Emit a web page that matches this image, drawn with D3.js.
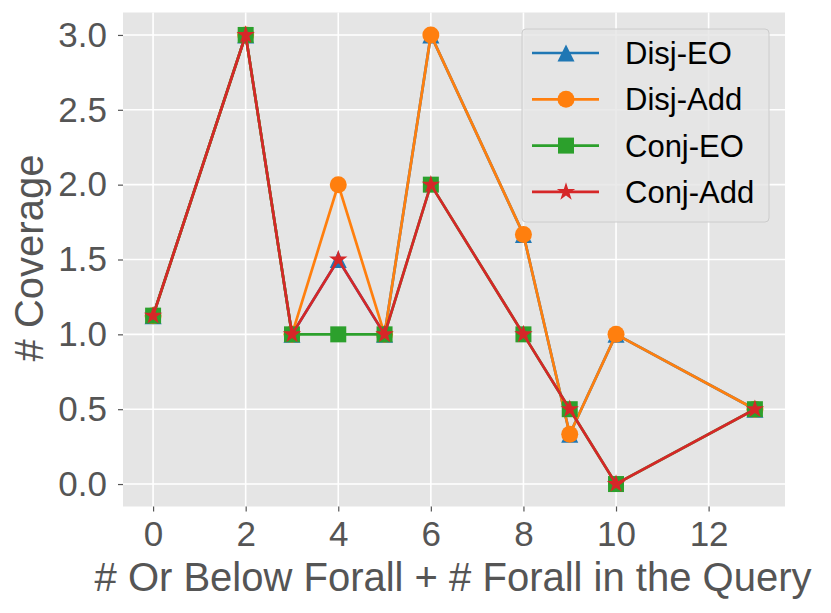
<!DOCTYPE html>
<html>
<head>
<meta charset="utf-8">
<script src="https://cdn.jsdelivr.net/npm/d3@7"></script>
<style>
  body { margin: 0; background: #fff; }
  text { font-family: "Liberation Sans", Arial, sans-serif; }
</style>
</head>
<body>
<svg id="chart" width="831" height="613"></svg>
<script>
// data
const xs = [0, 2, 3, 4, 5, 6, 8, 9, 10, 13]
const disjEO = [1.125, 3, 1, 1.5, 1, 3, 1.667, 0.333, 1, 0.5]
const disjAdd = [1.125, 3, 1, 2, 1, 3, 1.667, 0.333, 1, 0.5]
const conjEO = [1.125, 3, 1, 1, 1, 2, 1, 0.5, 0, 0.5]
const conjAdd = [1.125, 3, 1, 1.5, 1, 2, 1, 0.5, 0, 0.5]
const seriesNames = ['Disj-EO', 'Disj-Add', 'Conj-EO', 'Conj-Add']
const xTicks = [0, 2, 4, 6, 8, 10, 12]
const yTicks = [0, 0.5, 1, 1.5, 2, 2.5, 3]

const colors = ['#1f77b4', '#ff7f0e', '#2ca02c', '#d62728']

// matplotlib-style '^': bbox centred on the point
const triangleUp = {
    draw(context, size) {
        const s = Math.sqrt(size) / 2
        context.moveTo(0, -s)
        context.lineTo(s, s)
        context.lineTo(-s, s)
        context.closePath()
    }
}
const symbols = [triangleUp, d3.symbolCircle, d3.symbolSquare, d3.symbolStar]
const symSizes = [290, 227, 256, 105]

const margin = { top: 12.5, right: 46, bottom: 106.5, left: 123 }
const width = 831 - margin.left - margin.right
const height = 613 - margin.top - margin.bottom

const svg = d3.select('#chart')
const chart = svg.append('g')
    .attr('transform', `translate(${margin.left},${margin.top})`)

const x = d3.scaleLinear().domain([-0.65, 13.65]).range([0, width])
const y = d3.scaleLinear().domain([-0.15, 3.15]).range([height, 0])

chart.append('rect')
    .attr('width', width).attr('height', height)
    .attr('fill', '#e5e5e5')

// grid
chart.selectAll('.vgrid').data(xTicks).join('line')
    .attr('x1', d => x(d)).attr('x2', d => x(d))
    .attr('y1', 0).attr('y2', height)
    .attr('stroke', '#fff').attr('stroke-width', 1.6)
chart.selectAll('.hgrid').data(yTicks).join('line')
    .attr('y1', d => y(d)).attr('y2', d => y(d))
    .attr('x1', 0).attr('x2', width)
    .attr('stroke', '#fff').attr('stroke-width', 1.6)

// axes
const xAxis = d3.axisBottom(x).tickValues(xTicks).tickSize(5).tickPadding(9).tickFormat(d3.format('d'))
const yAxis = d3.axisLeft(y).tickValues(yTicks).tickSize(5).tickPadding(11).tickFormat(d3.format('.1f'))

const xAxisG = chart.append('g').attr('transform', `translate(0,${height})`).call(xAxis)
const yAxisG = chart.append('g').call(yAxis)
for (const g of [xAxisG, yAxisG]) {
    g.select('.domain').remove()
    g.selectAll('.tick line').attr('stroke', '#555').attr('stroke-width', 1.2)
    g.selectAll('.tick text')
        .attr('fill', '#555')
        .style('font-size', '35px')
        .style('font-family', '"Liberation Sans", Arial, sans-serif')
}
xAxisG.selectAll('.tick text').attr('dy', '0.74em')

// axis labels
svg.append('text')
    .attr('x', 453).attr('y', 591)
    .attr('text-anchor', 'middle')
    .attr('fill', '#555')
    .style('font-size', '40px')
    .text('# Or Below Forall + # Forall in the Query')

svg.append('text')
    .attr('transform', `translate(43,258) rotate(-90)`)
    .attr('text-anchor', 'middle')
    .attr('fill', '#555')
    .style('font-size', '40px')
    .text('# Coverage')

// series
const allSeries = [disjEO, disjAdd, conjEO, conjAdd]
const line = d3.line().x(d => x(d.x)).y(d => y(d.y))

allSeries.forEach((vals, i) => {
    const pts = xs.map((xv, j) => ({ x: xv, y: vals[j] }))
    chart.append('path')
        .attr('d', line(pts))
        .attr('fill', 'none')
        .attr('stroke', colors[i])
        .attr('stroke-width', 2.7)
    chart.append('g').selectAll('path')
        .data(pts)
        .join('path')
            .attr('transform', d => `translate(${x(d.x)},${y(d.y)})`)
            .attr('d', d3.symbol(symbols[i], symSizes[i]))
            .attr('fill', colors[i])
})

// legend
const legend = svg.append('g').attr('transform', 'translate(522,29)')
legend.append('rect')
    .attr('width', 247).attr('height', 193)
    .attr('rx', 4)
    .attr('fill', '#e5e5e5').attr('fill-opacity', 0.8)
    .attr('stroke', '#cccccc').attr('stroke-width', 1)

seriesNames.forEach((name, i) => {
    const ly = 24 + i * 46.3
    legend.append('line')
        .attr('x1', 10).attr('x2', 77)
        .attr('y1', ly).attr('y2', ly)
        .attr('stroke', colors[i]).attr('stroke-width', 2.7)
    legend.append('path')
        .attr('transform', `translate(44,${ly})`)
        .attr('d', d3.symbol(symbols[i], symSizes[i]))
        .attr('fill', colors[i])
    legend.append('text')
        .attr('x', 103).attr('y', ly + 11)
        .attr('fill', '#000')
        .style('font-size', '31px')
        .text(name)
})
</script>
</body>
</html>
